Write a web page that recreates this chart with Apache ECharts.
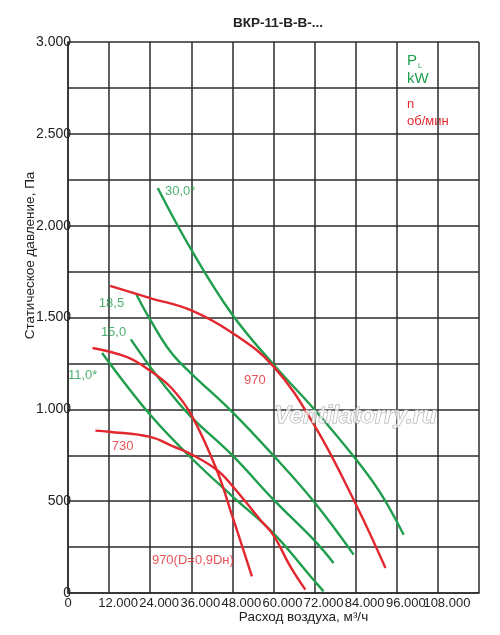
<!DOCTYPE html>
<html>
<head>
<meta charset="utf-8">
<title>ВКР-11-В-В</title>
<script src="https://cdn.jsdelivr.net/npm/echarts@6/dist/echarts.min.js"></script>
<style>
  html, body { margin: 0; padding: 0; background: #fff; }
  #chart { width: 500px; height: 635px; }
</style>
</head>
<body>
<div id="chart"></div>
<script>
var FONT = "'Liberation Sans', Arial, sans-serif"
var GREEN = '#1f9e4c', RED = '#e2282e', GRID = '#2b2b2b'

// оси
var xTicks = [0, 12000, 24000, 36000, 48000, 60000, 72000, 84000, 96000, 108000, 120000]
var yTicks = [0, 500, 1000, 1500, 2000, 2500, 3000]

// мощность, кВт (зелёные линии) — [расход м3/ч, давление Па]
var p30 = [[26200, 2205], [36000, 1869], [48000, 1515], [60000, 1244], [72000, 998],
  [84000, 730], [91200, 545], [98000, 317]]
var p185 = [[20000, 1624], [24000, 1488], [30000, 1312], [36000, 1195], [48000, 985],
  [60000, 748], [72000, 493], [83400, 209]]
var p15 = [[18350, 1381], [24000, 1231], [30000, 1086], [36000, 958], [48000, 749],
  [60000, 508], [72000, 285], [77550, 163]]
var p11 = [[9950, 1307], [24000, 970], [36000, 735], [48000, 526], [60000, 325],
  [72000, 65], [74600, 9]]

// частота вращения, об/мин (красные линии)
var n970 = [[12300, 1672], [24000, 1606], [36000, 1539], [48000, 1416], [60000, 1234],
  [72000, 911], [84000, 485], [92700, 136]]
var n970d = [[7150, 1334], [17100, 1285], [24000, 1210], [30000, 1120], [36000, 970],
  [43400, 671], [48000, 417], [53700, 90]]
var n730 = [[8000, 884], [12000, 878], [24000, 850], [30700, 798], [36000, 755],
  [43400, 671], [48000, 583], [56100, 399], [60000, 314], [64900, 145], [69300, 18]]

// подписи кривых: [x, y, текст, цвет]
var curveLabels = [
  [28300, 2185, '30,0*', GREEN],
  [9000, 1575, '18,5', GREEN],
  [9600, 1417, '15,0', GREEN],
  [0, 1186, '11,0*', GREEN],
  [51400, 1159, '970', RED],
  [12800, 797, '730', RED],
  [24500, 176, '970(D=0,9Dн)', RED]
]

function fmtThousand(v) {
  if (v == 0) return '0'
  if (v < 1000) return String(v)
  var t = Math.floor(v / 1000), r = v % 1000
  return t + '.' + ('00' + r).slice(-3)
}

function curve(name, data, color) {
  return {
    name: name,
    type: 'line',
    data: data,
    smooth: 0.4,
    showSymbol: false,
    silent: true,
    lineStyle: { color: color, width: 2.4 },
    z: 3
  }
}

var chart = echarts.init(document.getElementById('chart'), null, { renderer: 'canvas' })

var option = {
  animation: false,
  backgroundColor: '#fff',
  textStyle: { fontFamily: FONT },
  title: {
    text: 'ВКР-11-В-В-...',
    left: 273,
    top: 11,
    textAlign: 'center',
    textStyle: { fontSize: 13.5, fontWeight: 'bold', color: '#222', fontFamily: FONT }
  },
  grid: { left: 68, right: 21, top: 42, bottom: 42 },
  xAxis: {
    type: 'value',
    min: xTicks[0],
    max: xTicks[xTicks.length - 1],
    interval: 12000,
    name: 'Расход воздуха, м³/ч',
    nameLocation: 'middle',
    nameGap: 17,
    nameMoveOverlap: false,
    nameTextStyle: { fontSize: 13.5, color: '#222', fontFamily: FONT, padding: [0, 0, 0, 60], verticalAlign: 'top' },
    axisLine: { show: true, lineStyle: { color: GRID, width: 1.5 } },
    axisTick: { show: false },
    splitLine: { show: true, lineStyle: { color: GRID, width: 1.5 } },
    axisLabel: {
      margin: 4,
      fontSize: 13,
      color: '#222',
      fontFamily: FONT,
      padding: [0, 0, 0, 18],
      formatter: function (v) {
        if (v == 0) return '{z|0}'
        if (v >= 120000) return ''
        return fmtThousand(v)
      },
      rich: { z: { fontSize: 13, color: '#222', fontFamily: FONT, padding: [0, 18, 0, 0] } }
    }
  },
  yAxis: {
    type: 'value',
    min: yTicks[0],
    max: yTicks[yTicks.length - 1],
    interval: 250,
    name: 'Статическое давление, Па',
    nameLocation: 'middle',
    nameGap: 31,
    nameRotate: 90,
    nameMoveOverlap: false,
    nameTextStyle: { fontSize: 13.5, color: '#222', fontFamily: FONT, padding: [0, 0, 0, 124] },
    axisLine: { show: true, lineStyle: { color: GRID, width: 1.5 } },
    axisTick: { show: false },
    splitLine: { show: true, lineStyle: { color: GRID, width: 1.5 } },
    axisLabel: {
      margin: -3,
      fontSize: 14,
      color: '#222',
      fontFamily: FONT,
      formatter: function (v) {
        return yTicks.indexOf(v) >= 0 ? fmtThousand(v) : ''
      }
    }
  },
  series: [
    curve('30,0', p30, GREEN),
    curve('18,5', p185, GREEN),
    curve('15,0', p15, GREEN),
    curve('11,0', p11, GREEN),
    curve('970', n970, RED),
    curve('970(D=0,9Dн)', n970d, RED),
    curve('730', n730, RED),
    {
      type: 'scatter',
      symbolSize: 0,
      silent: true,
      z: 4,
      data: curveLabels.map(function (l) {
        return {
          value: [l[0], l[1]],
          label: {
            show: true,
            position: 'inside',
            align: 'left',
            verticalAlign: 'middle',
            formatter: l[2],
            color: l[3],
            fontSize: 13,
            fontFamily: FONT
          }
        }
      })
    }
  ],
  graphic: [
    {
      type: 'text',
      left: 407,
      top: 53,
      style: {
        text: '{p|P}{s|L}\n{p|kW}',
        rich: {
          p: { fontSize: 15, fill: GREEN, fontFamily: FONT, lineHeight: 18 },
          s: { fontSize: 7, fill: GREEN, fontFamily: FONT, verticalAlign: 'bottom', padding: [6, 0, 0, 1] }
        }
      }
    },
    {
      type: 'text',
      left: 407,
      top: 96,
      style: {
        text: 'n\nоб/мин',
        fill: RED,
        fontSize: 13,
        lineHeight: 17,
        fontFamily: FONT
      }
    },
    {
      type: 'text',
      left: 274,
      top: 404,
      z: 10,
      style: {
        text: 'Ventilatorry.ru',
        fontSize: 24,
        fontStyle: 'italic',
        fontWeight: 'bold',
        fontFamily: FONT,
        fill: 'rgba(255,255,255,0.7)',
        stroke: 'rgba(140,140,140,0.75)',
        lineWidth: 1
      }
    }
  ]
}

chart.setOption(option)
</script>
</body>
</html>
